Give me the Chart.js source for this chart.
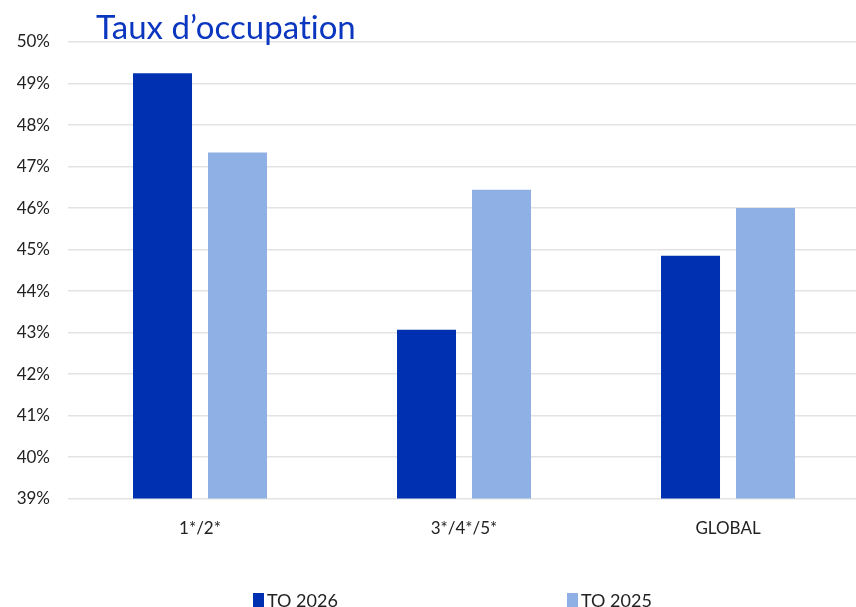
<!DOCTYPE html>
<html lang="fr">
<head>
    <meta charset="UTF-8">
    <title>Taux d'occupation</title>
    <script src="https://cdn.jsdelivr.net/npm/chart.js"></script>
    <style>
        body { margin: 0; background: #fff; overflow: hidden; }
        #wrap { position: relative; width: 856px; height: 607px; overflow: hidden; }
        #title {
            position: absolute; left: 96px; top: 6px;
            font: 33px Lato, sans-serif; color: #0b36c0;
            font-variant-ligatures: none;
        }
        #legend {
            position: absolute; top: 589px; left: 0; width: 856px;
            font: 18px Lato, sans-serif; color: #222;
        }
        .item { position: absolute; display: flex; align-items: center; }
        .box { width: 11px; height: 14px; margin-right: 3px; }
    </style>
</head>
<body>
<div id="wrap">
    <canvas id="myChart" width="860" height="607"></canvas>
    <div id="title">Taux d’occupation</div>
    <div id="legend"></div>
</div>
<script>
    // values in %
    const categories = ['1*/2*', '3*/4*/5*', 'GLOBAL'];
    const to2026 = [49.25, 43.07, 44.85];
    const to2025 = [47.34, 46.44, 46.0];
    const seriesNames = ['TO 2026', 'TO 2025'];
    const colors = ['#0030b2', '#8eb0e5'];

    const ctx = document.getElementById('myChart').getContext('2d');
    const myChart = new Chart(ctx, {
        type: 'bar',
        data: {
            labels: categories,
            datasets: [
                { label: seriesNames[0], data: to2026, backgroundColor: colors[0] },
                { label: seriesNames[1], data: to2025, backgroundColor: colors[1] }
            ]
        },
        options: {
            responsive: false,
            animation: false,
            categoryPercentage: 0.568,
            barPercentage: 0.787,
            layout: { padding: { top: 42, right: 0, bottom: 56, left: 0 } },
            plugins: { legend: { display: false }, tooltip: { enabled: false } },
            scales: {
                x: {
                    grid: { display: false },
                    border: { display: false },
                    ticks: { color: '#222', font: { family: 'Lato', size: 17 }, padding: 12 }
                },
                y: {
                    min: 39, max: 50,
                    afterFit: function(scale) { scale.width = 68; },
                    grid: { color: '#e3e3e3', lineWidth: 1.5, drawTicks: false },
                    border: { display: false },
                    ticks: {
                        stepSize: 1,
                        padding: 18,
                        color: '#222',
                        font: { family: 'Lato', size: 17 },
                        callback: v => v + '%'
                    }
                }
            }
        }
    });

    // legend spread like the original
    const legendX = [253, 567];
    const legend = document.getElementById('legend');
    seriesNames.forEach((name, i) => {
        const el = document.createElement('div');
        el.className = 'item';
        el.style.left = legendX[i] + 'px';
        el.innerHTML = '<span class="box" style="background:' + colors[i] + '"></span>' + name;
        legend.appendChild(el);
    });
</script>
</body>
</html>
